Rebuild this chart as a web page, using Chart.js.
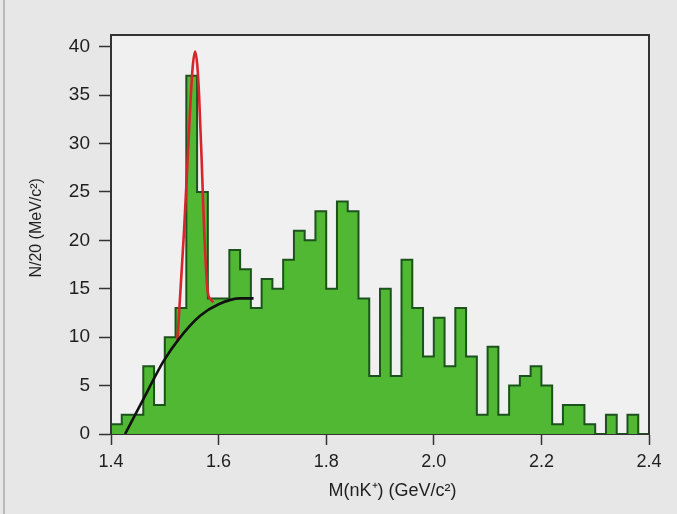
<!DOCTYPE html>
<html>
<head>
<meta charset="utf-8">
<title>M(nK+) invariant mass spectrum</title>
<script src="https://cdn.jsdelivr.net/npm/chart.js@4.4.1/dist/chart.umd.min.js"></script>
<style>
  html, body { margin: 0; padding: 0; background: #e7e7e7; }
  #wrap { position: relative; width: 677px; height: 514px; }
  #edge { position: absolute; left: 3px; top: 0; width: 2px; height: 514px; background: #b9b9b9; }
  canvas { display: block; }
</style>
</head>
<body>
<div id="wrap">
  <canvas id="chart" width="677" height="514"></canvas>
  <div id="edge"></div>
</div>
<script>
// Lower edges of the 20 MeV/c² mass bins (GeV/c²), plus the closing edge
const binEdges = [
  1.40, 1.42, 1.44, 1.46, 1.48, 1.50, 1.52, 1.54, 1.56, 1.58,
  1.60, 1.62, 1.64, 1.66, 1.68, 1.70, 1.72, 1.74, 1.76, 1.78,
  1.80, 1.82, 1.84, 1.86, 1.88, 1.90, 1.92, 1.94, 1.96, 1.98,
  2.00, 2.02, 2.04, 2.06, 2.08, 2.10, 2.12, 2.14, 2.16, 2.18,
  2.20, 2.22, 2.24, 2.26, 2.28, 2.30, 2.32, 2.34, 2.36, 2.38,
  2.40
];

// Entries per bin
const binCounts = [
  1, 2, 2, 7, 3, 10, 13, 37, 25, 14,
  14, 19, 17, 13, 16, 15, 18, 21, 20, 23,
  15, 24, 23, 14, 6, 15, 6, 18, 13, 8,
  12, 7, 13, 8, 2, 9, 2, 5, 6, 7,
  5, 1, 3, 3, 1, 0, 2, 0, 2, 0
];

// Fit: narrow peak on top of the smooth background
const peakFitMass  = [1.5235, 1.5284, 1.5359, 1.5421, 1.5483, 1.5520, 1.5563, 1.5605, 1.5638, 1.5687, 1.5731, 1.5793, 1.5850, 1.5905];
const peakFitValue = [9.7,    14.2,   21.1,   28.0,   34.9,   38.0,   39.5,   38.0,   34.9,   28.0,   21.1,   14.9,   13.9,   13.6];

// Background component of the fit
const bgFitMass  = [1.4261, 1.4450, 1.4602, 1.4974, 1.5260, 1.5656, 1.6000, 1.6401, 1.6650];
const bgFitValue = [0.0,    2.0,    3.6,    7.5,    9.8,    12.2,   13.4,   14.0,   14.0];

// Axis ticks
const xTickValues = [1.4, 1.6, 1.8, 2.0, 2.2, 2.4];
const yTickValues = [0, 5, 10, 15, 20, 25, 30, 35, 40];

const histPoints = binEdges.map((x, i) => ({ x: x, y: binCounts[Math.min(i, binCounts.length - 1)] }));
const peakPoints = peakFitMass.map((x, i) => ({ x: x, y: peakFitValue[i] }));
const bgPoints = bgFitMass.map((x, i) => ({ x: x, y: bgFitValue[i] }));

const FONT = "'Liberation Sans', Arial, sans-serif";
const INK = '#1f1f1f';

// Page tone, lighter plot panel, and the box around the plot
const framePlugin = {
  id: 'frame',
  beforeDraw(chart) {
    const { ctx, chartArea: a } = chart;
    ctx.save();
    ctx.fillStyle = '#e7e7e7';
    ctx.fillRect(0, 0, chart.width, chart.height);
    ctx.fillStyle = '#f0f0f0';
    ctx.fillRect(a.left, a.top, a.right - a.left, a.bottom - a.top);
    ctx.restore();
  },
  afterDraw(chart) {
    const { ctx, chartArea: a } = chart;
    ctx.save();
    ctx.strokeStyle = '#333333';
    ctx.lineWidth = 2;
    ctx.beginPath();
    ctx.moveTo(a.left, a.bottom);
    ctx.lineTo(a.left, a.top);
    ctx.lineTo(a.right, a.top);
    ctx.lineTo(a.right, a.bottom);
    ctx.stroke();
    ctx.restore();
  }
};

new Chart(document.getElementById('chart'), {
  type: 'line',
  data: {
    datasets: [
      {
        label: 'background',
        data: bgPoints,
        borderColor: '#111111',
        borderWidth: 2.6,
        pointRadius: 0,
        fill: false,
        cubicInterpolationMode: 'monotone',
        order: 0
      },
      {
        label: 'peak fit',
        data: peakPoints,
        borderColor: '#d6262b',
        borderWidth: 2.6,
        pointRadius: 0,
        fill: false,
        cubicInterpolationMode: 'monotone',
        order: 1
      },
      {
        label: 'events',
        data: histPoints,
        stepped: true,
        borderColor: '#1c521c',
        borderWidth: 2,
        backgroundColor: '#50b832',
        pointRadius: 0,
        fill: 'origin',
        order: 2
      }
    ]
  },
  options: {
    responsive: false,
    animation: false,
    devicePixelRatio: 1,
    layout: { padding: { top: 35, right: 28, left: 0, bottom: 0 } },
    plugins: {
      legend: { display: false },
      tooltip: { enabled: false }
    },
    scales: {
      x: {
        type: 'linear',
        min: 1.4,
        max: 2.4,
        afterBuildTicks(scale) { scale.ticks = xTickValues.map(v => ({ value: v })); },
        afterFit(scale) { scale.height = 80; },
        grid: { drawOnChartArea: false, tickLength: 11, tickColor: '#333333', tickWidth: 1.5 },
        border: { display: true, color: '#333333', width: 2 },
        ticks: {
          padding: 6,
          color: INK,
          font: { family: FONT, size: 18 },
          maxRotation: 0,
          callback: v => Number(v).toFixed(1)
        },
        title: {
          display: true,
          // leading spaces nudge the centred title slightly right of the axis middle
          text: '     M(nK⁺) (GeV/c²)',
          color: INK,
          font: { family: FONT, size: 18 },
          padding: { top: 0, bottom: 12 }
        }
      },
      y: {
        type: 'linear',
        min: 0,
        max: 41.2,
        afterBuildTicks(scale) { scale.ticks = yTickValues.map(v => ({ value: v })); },
        afterFit(scale) { scale.width = 111; },
        grid: { drawOnChartArea: false, tickLength: 12, tickColor: '#333333', tickWidth: 1.5 },
        border: { display: true, color: '#333333', width: 2 },
        ticks: {
          padding: 9,
          color: INK,
          font: { family: FONT, size: 19 },
          callback: v => String(v)
        },
        title: {
          display: true,
          // leading spaces lift the rotated title a little above the axis middle
          text: '   N/20 (MeV/c²)',
          color: INK,
          font: { family: FONT, size: 16 },
          padding: { top: 27, bottom: 0 }
        }
      }
    }
  },
  plugins: [framePlugin]
});
</script>
</body>
</html>
